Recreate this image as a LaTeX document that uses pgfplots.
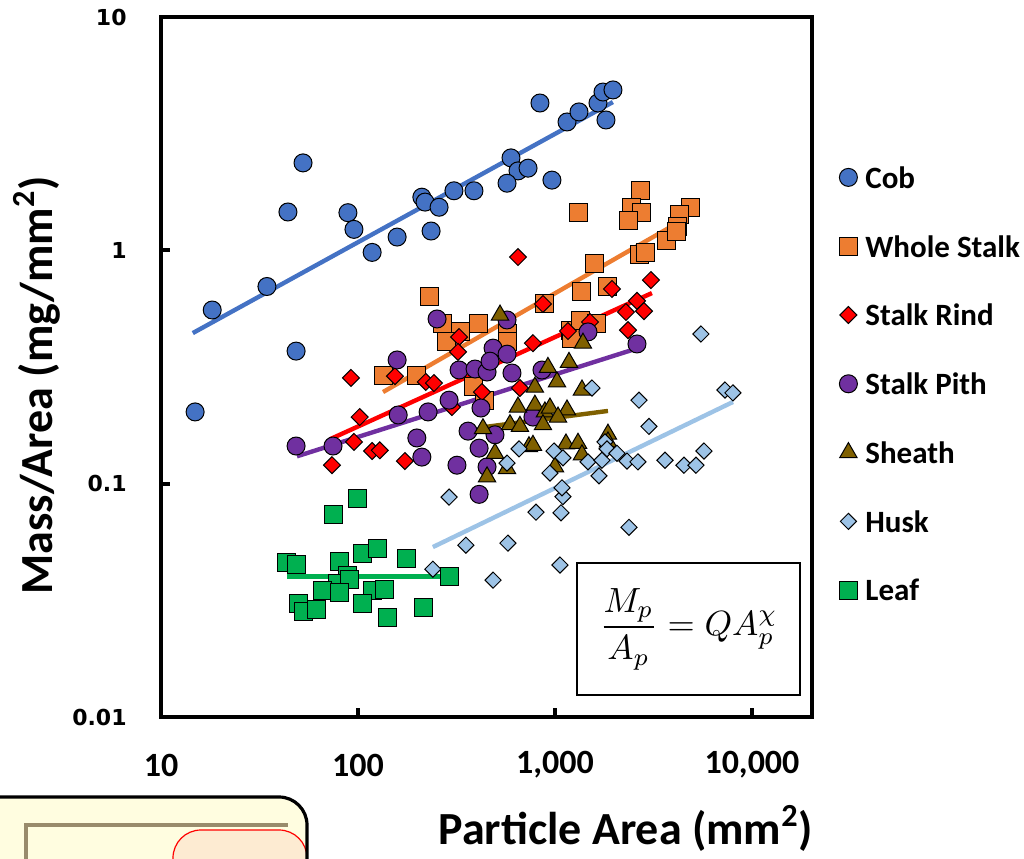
\documentclass[border=0pt]{standalone}
\usepackage{fontspec}
\setmainfont{Carlito}
\newfontfamily\dejavu{DejaVu Sans}
\usepackage{pgfplots}
\pgfplotsset{compat=1.18}
\definecolor{cobc}{HTML}{4472C4}
\definecolor{wsc}{HTML}{ED7D31}
\definecolor{rindc}{HTML}{FF0000}
\definecolor{pithc}{HTML}{7030A0}
\definecolor{sheathc}{HTML}{7F6000}
\definecolor{huskc}{HTML}{9DC3E6}
\definecolor{leafc}{HTML}{00B050}
\definecolor{boxyellow}{HTML}{FFFDE0}
\definecolor{peach}{HTML}{FDEBD2}
\definecolor{taupe}{HTML}{998B6C}
\pgfplotsset{
  lgd/.style={legend image code/.code={\path[draw=none, fill=none] (0pt,-1pt) rectangle (17pt,1pt); \draw[##1] plot coordinates {(8.5pt,0pt)};}},
  mk/.style={only marks, color=#1, lgd},
}
\begin{document}
\begin{tikzpicture}
\useasboundingbox (-80.5pt,-70.5pt) rectangle (431.5pt,358.5pt);
% decoration at bottom left
\fill[boxyellow, rounded corners=14pt] (-95pt,-95pt) rectangle (73pt,-40pt);
\draw[taupe, line width=1.6pt] (-67.5pt,-100pt) -- (-67.5pt,-54pt) -- (63.5pt,-54pt);
\draw[red, line width=0.6pt, fill=peach, rounded corners=14pt] (6pt,-100pt) rectangle (73pt,-56.5pt);
\draw[black, line width=1.6pt, rounded corners=14pt] (-95pt,-95pt) rectangle (73pt,-40pt);
\begin{loglogaxis}[
  at={(0,0)}, anchor=south west,
  scale only axis, width=325.5pt, height=350pt,
  xmin=10, xmax=20170, ymin=0.01, ymax=10,
  axis line style={line width=2pt},
  tick style={line width=2pt, black},
  major tick length=4.5pt, tick align=inside, tick pos=left,
  xminorticks=false, yminorticks=false,
  xtick={10,100,1000,10000}, xticklabels={10,100,{1,000},{10,000}},
  ytick={0.01,0.1,1,10}, yticklabels={0.01,0.1,1,10},
  xticklabel style={font=\fontsize{17}{20}\selectfont\bfseries, anchor=center, yshift=-24pt},
  yticklabel style={font=\dejavu\bfseries\fontsize{11}{13}\selectfont, anchor=east, inner sep=0pt, xshift=-17pt},
  xlabel={Particle Area (mm\textsuperscript{2})},
  ylabel={Mass/Area (mg/mm\textsuperscript{2})},
  xlabel style={font=\fontsize{23}{27}\selectfont\bfseries, at={(axis description cs:0.714,-0.1586)}, anchor=center},
  ylabel style={font=\fontsize{23}{27}\selectfont\bfseries, at={(axis description cs:-0.1905,0.474)}, anchor=center},
  legend style={at={(1.0292,0.8206)}, anchor=north west, draw=none, fill=none, inner sep=0pt,
    row sep=0pt, column sep=0pt, nodes={inner sep=0pt, minimum height=34.4pt, text depth=0pt},
    font=\fontsize{15.5}{18}\selectfont\bfseries},
  legend cell align=left,
]
\addplot[mk=cobc, mark=*, mark size=4.5pt, mark options={draw=black, line width=0.5pt, fill=cobc}] coordinates {
(14.9,0.203) (18.2,0.555) (34.5,0.70) (44.1,1.46) (52.6,2.37) (48.5,0.37) (88.9,1.45) (95.4,1.23)
(118,0.98) (158,1.14) (211,1.69) (219,1.61) (258,1.53) (235,1.21) (307,1.80) (388,1.80)
(598,2.49) (649,2.19) (730,2.25) (571,1.94) (965,2.00) (839,4.28) (1151,3.55) (1324,3.92)
(1653,4.28) (1815,3.62) (1753,4.77) (1970,4.87)};
\addlegendentry{Cob}
\addplot[mk=wsc, mark=square*, mark size=4.5pt, mark options={draw=black, line width=0.5pt, fill=wsc}] coordinates {
(232,0.637) (134,0.292) (199,0.292) (270,0.488) (333,0.451) (407,0.488) (283,0.405) (388,0.262)
(441,0.228) (571,0.442) (571,0.405) (889,0.594) (1192,0.455) (1340,0.50) (1634,0.488) (1206,0.421)
(1371,0.669) (1858,0.703) (1596,0.882) (1324,1.45) (2733,1.81) (2460,1.53) (2764,1.45) (2375,1.34)
(3661,1.10) (2670,0.964) (2897,0.98) (4902,1.52) (4310,1.42) (4210,1.27) (4150,1.21)};
\addlegendentry{Whole Stalk}
\addplot[mk=rindc, mark=square*, mark size=3pt, mark options={draw=black, line width=0.5pt, fill=rindc, rotate=45}] coordinates {
(649,0.936) (92.1,0.284) (73.8,0.120) (95.4,0.151) (102,0.193) (118,0.138) (129,0.139) (173,0.125)
(154,0.289) (221,0.273) (243,0.270) (326,0.425) (322,0.367) (300,0.213) (426,0.247) (664,0.257)
(773,0.40) (869,0.589) (1164,0.451) (1506,0.493) (1947,0.683) (2293,0.544) (2347,0.455) (2608,0.607)
(2830,0.549) (3071,0.746)};
\addlegendentry{Stalk Rind}
\addplot[mk=pithc, mark=*, mark size=4.5pt, mark options={draw=black, line width=0.5pt, fill=pithc}] coordinates {
(48.5,0.145) (74.7,0.145) (158,0.339) (252,0.508) (326,0.307) (393,0.310) (452,0.301) (485,0.381)
(468,0.335) (571,0.359) (605,0.298) (290,0.228) (227,0.203) (160,0.197) (421,0.211) (362,0.168)
(496,0.162) (412,0.142) (452,0.118) (199,0.157) (211,0.130) (318,0.120) (412,0.090) (571,0.503)
(1471,0.447) (2608,0.397) (859,0.307) (773,0.193)};
\addlegendentry{Stalk Pith}
\addplot[mk=sheathc, mark=triangle*, mark size=5pt, mark options={draw=black, line width=0.5pt, fill=sheathc}] coordinates {
(526,0.528) (1387,0.40) (921,0.315) (1178,0.331) (1024,0.273) (791,0.259) (1371,0.252) (649,0.213)
(791,0.217) (889,0.203) (943,0.211) (1151,0.207) (1036,0.193) (869,0.179) (591,0.179) (664,0.176)
(431,0.172) (496,0.135) (738,0.144) (773,0.146) (1137,0.148) (1309,0.149) (1371,0.133) (1858,0.163)
(1858,0.151) (1000,0.118) (452,0.107) (571,0.116)};
\addlegendentry{Sheath}
\addplot[mk=huskc, mark=square*, mark size=2.85pt, mark options={draw=black, line width=0.5pt, fill=huskc, rotate=45}] coordinates {
(5509,0.438) (7295,0.252) (8008,0.245) (2670,0.228) (3000,0.176) (1541,0.257) (290,0.0876) (353,0.0545)
(240,0.043) (485,0.0386) (577,0.0556) (1060,0.0448) (801,0.0755) (1073,0.075) (2375,0.065) (1098,0.088)
(657,0.141) (571,0.1225) (989,0.138) (1098,0.129) (943,0.111) (1085,0.096) (1673,0.108) (1471,0.124)
(1732,0.126) (1794,0.151) (1837,0.141) (2064,0.135) (2320,0.125) (2638,0.124) (3618,0.126) (4516,0.120)
(5196,0.120) (5705,0.138)};
\addlegendentry{Husk}
\addplot[mk=leafc, mark=square*, mark size=4.5pt, mark options={draw=black, line width=0.5pt, fill=leafc}] coordinates {
(100,0.086) (75.5,0.074) (43.6,0.0461) (49.0,0.0452) (81.0,0.0466) (106,0.050) (126,0.053) (177,0.048)
(290,0.040) (88.9,0.0406) (79.1,0.0375) (91,0.039) (66.4,0.035) (81.0,0.0343) (119,0.035) (137,0.0352)
(49.6,0.0308) (52.6,0.0282) (61.9,0.029) (106,0.0308) (142,0.0268) (214,0.0296)};
\addlegendentry{Leaf}
% trend lines
\addplot[no marks, line width=2.2pt, color=cobc, forget plot] coordinates {(14.5,0.442) (1968,4.32)};
\addplot[no marks, line width=2.2pt, color=wsc, forget plot] coordinates {(134,0.247) (4732,1.39)};
\addplot[no marks, line width=2.2pt, color=rindc, forget plot] coordinates {(72,0.155) (3106,0.656)};
\addplot[no marks, line width=2.2pt, color=pithc, forget plot] coordinates {(49,0.131) (2460,0.374)};
\addplot[no marks, line width=2.2pt, color=sheathc, forget plot] coordinates {(441,0.175) (1858,0.205)};
\addplot[no marks, line width=2.2pt, color=huskc, forget plot] coordinates {(240,0.0535) (8010,0.224)};
\addplot[no marks, line width=2.2pt, color=leafc, forget plot] coordinates {(43.6,0.040) (267,0.040)};
\node[draw, line width=0.75pt, fill=white, minimum width=111.5pt, minimum height=66pt, inner sep=0pt]
  at (rel axis cs:0.8103,0.1257) {\scalebox{1.75}{$\displaystyle\frac{M_p}{A_p}=QA_p^{\chi}$}};
\end{loglogaxis}
\end{tikzpicture}
\end{document}
